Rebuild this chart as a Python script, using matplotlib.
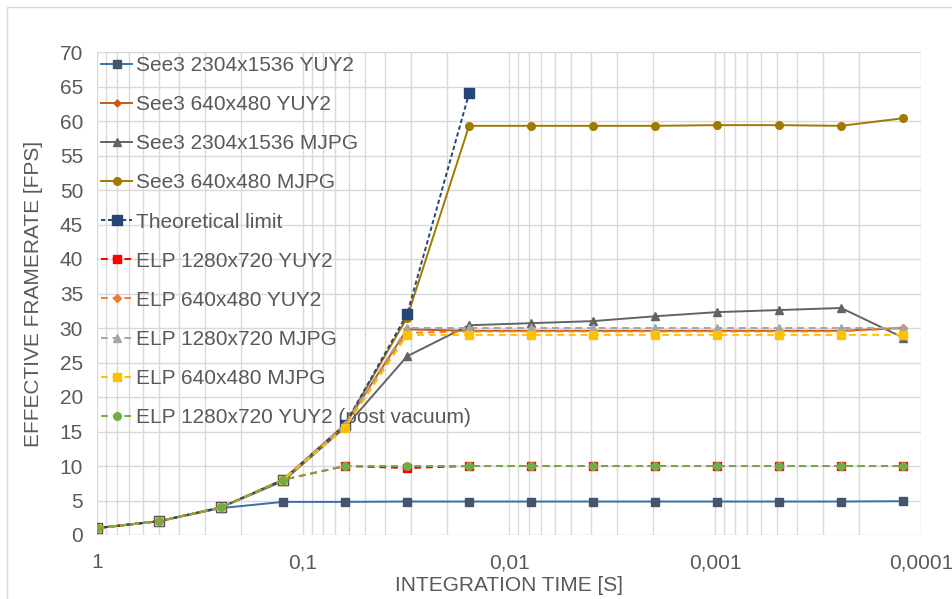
import numpy as np
import matplotlib
matplotlib.use("Agg")
import matplotlib.pyplot as plt
from matplotlib.patches import Rectangle

plt.rcParams['font.family'] = ['Liberation Sans', 'DejaVu Sans']

# integration times: 1, 1/2, 1/4, ... 1/8192 s
t_exp = [2.0 ** -k for k in range(14)]
t_theo = t_exp[:7]

see3_2304_yuy2 = [1, 2, 3.9, 4.8, 4.8, 4.85, 4.85, 4.85, 4.85, 4.85, 4.85, 4.85, 4.85, 4.9]
see3_640_yuy2 = [1, 2, 4, 8, 16, 29.8, 29.6, 29.6, 29.6, 29.6, 29.6, 29.6, 29.6, 30.0]
see3_2304_mjpg = [1, 2, 4, 7.8, 15.6, 25.9, 30.4, 30.7, 31.0, 31.7, 32.3, 32.6, 32.9, 28.6]
see3_640_mjpg = [1, 2, 4, 8, 16, 31.5, 59.3, 59.3, 59.3, 59.3, 59.4, 59.4, 59.3, 60.4]
theoretical = [1, 2, 4, 8, 16, 32, 64]
elp_1280_yuy2 = [1, 2, 4, 8, 10, 9.7, 10, 10, 10, 10, 10, 10, 10, 10]
elp_640_yuy2 = [1, 2, 4, 8, 16, 29.3, 29.5, 29.5, 29.5, 29.5, 29.5, 29.5, 29.5, 30.0]
elp_1280_mjpg = [1, 2, 4, 8, 16, 30.0, 30.0, 30.0, 30.0, 30.0, 30.0, 30.0, 30.0, 30.0]
elp_640_mjpg = [1, 2, 4, 8, 15.5, 29.0, 29.0, 29.0, 29.0, 29.0, 29.0, 29.0, 29.0, 29.0]
elp_1280_yuy2_vac = [1, 2, 4, 8, 10, 10, 10, 10, 10, 10, 10, 10, 10, 10]

x_ticks = [1, 0.1, 0.01, 0.001, 0.0001]
x_labels = ["1", "0,1", "0,01", "0,001", "0,0001"]
y_ticks = list(range(0, 75, 5))

txt = "#595959"
grid = "#D9D9D9"

fig = plt.figure(figsize=(9.52, 5.99), dpi=100)
fig.patches.append(Rectangle((7 / 952, -0.01), 1.0, 1 - 7 / 599 + 0.01, transform=fig.transFigure,
                             fill=False, edgecolor=grid, linewidth=1.0))
ax = fig.add_axes([97 / 952, 1 - 535 / 599, 824 / 952, 483 / 599])

lw = 1.4
series = [
    (t_exp, see3_2304_yuy2, "See3 2304x1536 YUY2", "#3A6EA8", "#44546A", "s", 5.5, "-"),
    (t_exp, see3_640_yuy2, "See3 640x480 YUY2", "#C55A11", "#C55A11", "D", 3.5, "-"),
    (t_exp, see3_2304_mjpg, "See3 2304x1536 MJPG", "#636363", "#636363", "^", 5.5, "-"),
    (t_exp, see3_640_mjpg, "See3 640x480 MJPG", "#A07A00", "#A07A00", "o", 5.5, "-"),
    (t_theo, theoretical, "Theoretical limit", "#264478", "#264478", "s", 6.5, (0, (2.2, 1.4))),
    (t_exp, elp_1280_yuy2, "ELP 1280x720 YUY2", "#FF0000", "#FF0000", "s", 6, (0, (3.5, 2.5))),
    (t_exp, elp_640_yuy2, "ELP 640x480 YUY2", "#ED7D31", "#ED7D31", "D", 4.5, (0, (3.5, 2.5))),
    (t_exp, elp_1280_mjpg, "ELP 1280x720 MJPG", "#A5A5A5", "#A5A5A5", "^", 6, (0, (3.5, 2.5))),
    (t_exp, elp_640_mjpg, "ELP 640x480 MJPG", "#FFC000", "#FFC000", "s", 6, (0, (3.5, 2.5))),
    (t_exp, elp_1280_yuy2_vac, "ELP 1280x720 YUY2 (post vacuum)", "#70AD47", "#70AD47", "o", 5.5, (0, (3.5, 2.5))),
]
for xs, ys, lbl, lc, mc, mk, ms, ls in series:
    ax.plot(xs, ys, color=lc, linestyle=ls, linewidth=lw, marker=mk, markersize=ms,
            markerfacecolor=mc, markeredgecolor=mc, label=lbl, zorder=3)

ax.set_xscale("log")
ax.set_xlim(1, 1e-4)
ax.set_ylim(0, 70)
ax.set_xticks(x_ticks)
ax.set_xticklabels(x_labels)
ax.set_yticks(y_ticks)
ax.tick_params(axis="both", which="both", length=0, labelsize=15, colors=txt, pad=10)
ax.tick_params(axis="x", pad=13)
ax.grid(True, which="major", color=grid, linewidth=1.0)
ax.grid(True, which="minor", axis="x", color=grid, linewidth=1.0)
ax.set_axisbelow(True)
for s in ax.spines.values():
    s.set_visible(False)

ax.set_xlabel("INTEGRATION TIME [S]", fontsize=15, color=txt, labelpad=3)
ax.set_ylabel("EFFECTIVE FRAMERATE [FPS]", fontsize=15, color=txt, labelpad=12)

leg = ax.legend(loc="upper left", bbox_to_anchor=(0.0, 1.0), frameon=False, fontsize=15,
                labelcolor=txt, handlelength=1.5, handletextpad=0.15, labelspacing=0.965,
                borderaxespad=0.2, borderpad=0.0, numpoints=1)
leg.set_zorder(2)

fig.savefig("out.png", dpi=100)
